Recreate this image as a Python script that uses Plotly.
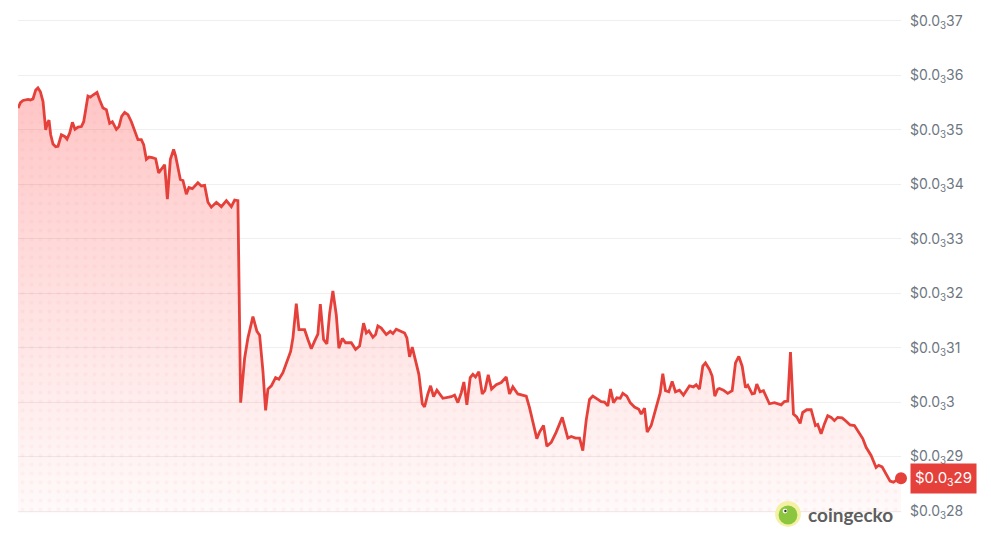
import plotly.graph_objects as go

# hours since start of the 7-day window
hours = [0, 0.46, 0.95, 1.46, 1.90, 2.36, 2.85, 3.37, 3.80, 4.26, 4.76, 5.27, 5.59, 5.90, 6.22, 6.66, 7.17, 7.61, 8.25, 8.88,
         9.32, 9.83, 10.35, 10.84, 11.41, 12.06, 12.50, 13.31, 13.77, 14.27, 15.03, 15.54, 16.17, 16.81, 17.44, 17.95, 18.72, 19.21, 19.72, 20.29,
         20.92, 21.57, 22.20, 22.82, 23.47, 23.91, 24.42, 24.92, 25.56, 26.19, 26.76, 27.27, 27.90, 28.42, 28.99, 29.61, 29.99, 30.89, 31.38, 32.03,
         32.52, 33.17, 34.23, 34.88, 35.51, 36.14, 36.78, 37.74, 38.69, 39.64, 40.59, 41.22, 41.84, 42.36, 43.12, 43.75, 44.70, 45.46, 45.97, 46.60,
         47.11, 47.55, 48.20, 49.01, 49.64, 50.40, 51.05, 51.87, 52.31, 52.95, 53.45, 54.53, 55.16, 55.81, 56.43, 57.06, 57.52, 58.14, 58.77, 59.29,
         59.91, 60.56, 61.05, 61.70, 62.33, 63.41, 64.23, 64.99, 65.75, 66.27, 66.76, 67.52, 68.03, 68.47, 69.12, 70.07, 70.83, 71.33, 71.97, 72.73,
         73.55, 73.99, 74.50, 75.01, 75.45, 76.27, 76.92, 77.35, 77.98, 78.50, 79.07, 79.70, 80.84, 81.60, 82.43, 83.06, 83.69, 84.33, 84.83, 85.40,
         86.04, 86.54, 87.05, 87.68, 88.33, 88.82, 89.47, 90.10, 90.99, 91.94, 92.89, 93.52, 94.15, 95.10, 96.05, 96.70, 97.32, 97.95, 98.71, 99.23,
         99.99, 100.62, 101.45, 102.40, 103.55, 104.61, 105.26, 106.08, 106.84, 107.46, 108.11, 108.74, 109.36, 110.32, 110.96, 111.59, 112.22, 112.73, 113.30, 113.93,
         114.58, 115.07, 115.83, 116.48, 117.30, 118.11, 118.57, 119.20, 119.71, 120.47, 121.42, 122.18, 122.68, 123.19, 123.82, 124.46, 125.09, 125.85, 126.61, 127.76,
         128.52, 129.03, 129.66, 130.29, 130.80, 131.56, 132.07, 132.57, 133.14, 133.46, 134.22, 135.04, 135.88, 136.51, 137.14, 137.78, 138.41, 138.85, 139.68, 140.12,
         140.56, 141.20, 141.83, 142.97, 143.92, 144.55, 145.20, 145.82, 146.45, 146.97, 147.54, 148.16, 148.81, 149.30, 150.07, 150.90, 151.72, 152.16, 152.80, 153.43,
         154.06, 154.71, 155.33, 155.96, 156.80, 157.56, 158.32, 159.14, 159.96, 160.72, 161.36, 162.31, 163.26, 163.76, 164.40, 165.16, 165.92, 166.55, 167.37, 168.0]

# price in units of 1e-5 USD (i.e. $0.0₃xx)
price_e5 = [35.40, 35.50, 35.54, 35.55, 35.56, 35.55, 35.57, 35.73, 35.77, 35.70, 35.52, 35.00, 35.12, 35.18, 34.91, 34.74, 34.69, 34.70, 34.91, 34.88,
            34.83, 34.94, 35.14, 35.01, 35.05, 35.06, 35.15, 35.62, 35.60, 35.64, 35.69, 35.55, 35.40, 35.37, 35.12, 35.15, 35.01, 35.06, 35.25, 35.32,
            35.28, 35.15, 35.00, 34.82, 34.82, 34.73, 34.46, 34.50, 34.49, 34.47, 34.21, 34.27, 34.36, 33.73, 34.46, 34.64, 34.52, 34.09, 34.07, 33.82,
            33.94, 33.92, 34.03, 33.97, 33.98, 33.67, 33.58, 33.67, 33.59, 33.70, 33.59, 33.71, 33.70, 29.99, 30.81, 31.18, 31.57, 31.30, 31.23, 30.57,
            29.85, 30.24, 30.30, 30.45, 30.42, 30.54, 30.72, 30.93, 31.18, 31.81, 31.33, 31.33, 31.15, 30.98, 31.12, 31.25, 31.80, 31.15, 31.07, 31.63,
            32.04, 31.60, 30.99, 31.17, 31.09, 31.09, 30.97, 31.03, 31.45, 31.27, 31.31, 31.19, 31.24, 31.40, 31.36, 31.24, 31.30, 31.26, 31.34, 31.30,
            31.27, 31.18, 30.83, 31.01, 30.83, 30.51, 29.97, 29.91, 30.15, 30.30, 30.10, 30.22, 30.07, 30.08, 30.10, 30.13, 29.99, 30.17, 30.37, 29.95,
            30.45, 30.51, 30.46, 30.56, 30.15, 30.21, 30.50, 30.24, 30.32, 30.36, 30.46, 30.15, 30.28, 30.15, 30.13, 30.11, 29.90, 29.66, 29.33, 29.45,
            29.57, 29.19, 29.26, 29.45, 29.72, 29.34, 29.37, 29.34, 29.34, 29.11, 29.67, 30.05, 30.11, 30.05, 30.01, 30.00, 29.93, 30.24, 29.99, 30.08,
            30.07, 30.16, 30.11, 29.99, 29.91, 29.87, 29.78, 29.89, 29.45, 29.57, 29.89, 30.17, 30.52, 30.21, 30.19, 30.38, 30.19, 30.22, 30.13, 30.30,
            30.28, 30.32, 30.24, 30.66, 30.72, 30.60, 30.48, 30.11, 30.24, 30.25, 30.22, 30.16, 30.21, 30.72, 30.84, 30.66, 30.27, 30.31, 30.15, 30.16,
            30.33, 30.19, 30.21, 29.97, 29.99, 29.97, 29.95, 30.01, 30.02, 30.92, 29.78, 29.73, 29.61, 29.81, 29.86, 29.86, 29.57, 29.59, 29.42, 29.60,
            29.75, 29.72, 29.66, 29.72, 29.71, 29.65, 29.58, 29.57, 29.45, 29.33, 29.17, 29.02, 28.80, 28.84, 28.81, 28.69, 28.55, 28.53, 28.58, 28.60]

prices = [p * 1e-5 for p in price_e5]

tick_vals_e5 = [28, 29, 30, 31, 32, 33, 34, 35, 36, 37]
tick_texts = ["$0.0<sub>3</sub>28", "$0.0<sub>3</sub>29", "$0.0<sub>3</sub>3", "$0.0<sub>3</sub>31",
              "$0.0<sub>3</sub>32", "$0.0<sub>3</sub>33", "$0.0<sub>3</sub>34", "$0.0<sub>3</sub>35",
              "$0.0<sub>3</sub>36", "$0.0<sub>3</sub>37"]
tick_vals = [v * 1e-5 for v in tick_vals_e5]
current_label = "$0.0<sub>3</sub>29"

RED = "#e5403a"

fig = go.Figure()

# gradient fill
fig.add_trace(go.Scatter(
    x=hours, y=prices, mode="lines", line=dict(width=0, color=RED),
    fill="tozeroy",
    fillgradient=dict(type="vertical",
                      colorscale=[[0, "rgba(255,80,80,0.03)"], [1, "rgba(255,60,60,0.30)"]],
                      start=0.00028, stop=0.000358),
    hoverinfo="skip", showlegend=False))

# dotted texture
fig.add_trace(go.Scatter(
    x=hours, y=prices, mode="lines", line=dict(width=0, color=RED),
    fill="tozeroy", fillcolor="rgba(0,0,0,0)",
    fillpattern=dict(shape=".", size=9, solidity=0.15,
                     fgcolor="rgba(240,90,90,0.10)", bgcolor="rgba(0,0,0,0)"),
    hoverinfo="skip", showlegend=False))

# price line
fig.add_trace(go.Scatter(
    x=hours, y=prices, mode="lines", line=dict(width=2.8, color=RED),
    showlegend=False))

# end dot
fig.add_trace(go.Scatter(
    x=[hours[-1]], y=[prices[-1]], mode="markers",
    marker=dict(size=12, color=RED), cliponaxis=False, showlegend=False))

fig.update_layout(
    width=991, height=533,
    margin=dict(l=18, r=90, t=15, b=20),
    paper_bgcolor="white", plot_bgcolor="white",
    font=dict(family="Inter, Roboto, sans-serif", size=14, color="#6e7681"),
    xaxis=dict(range=[hours[0], hours[-1]], visible=False, showgrid=False, zeroline=False),
    yaxis=dict(side="right", range=[0.000279636, 0.000370364],
               tickvals=tick_vals, ticktext=tick_texts,
               showgrid=True, gridcolor="#efefef", gridwidth=1,
               zeroline=False, showline=False, ticks="",
               ticklabelstandoff=8,
               tickfont=dict(size=14, color="#6e7681")),
)

# current price badge
fig.add_annotation(
    xref="paper", yref="y", x=1, y=prices[-1], xanchor="left", yanchor="middle",
    xshift=9, text=current_label, showarrow=False,
    font=dict(size=15, color="white", family="Inter, Roboto, sans-serif"),
    bgcolor=RED, borderpad=4)

# coingecko logo
logo_svg = ("data:image/svg+xml;utf8,"
            "<svg xmlns='http://www.w3.org/2000/svg' width='28' height='28' viewBox='0 0 28 28'>"
            "<circle cx='14' cy='14' r='13' fill='%23f4f1a4'/>"
            "<circle cx='14' cy='15' r='9.5' fill='%238cc63f'/>"
            "<circle cx='11' cy='11' r='2.4' fill='white'/>"
            "<circle cx='11.4' cy='11' r='1.2' fill='%23333'/>"
            "</svg>")
PW, PH = 883, 498
fig.add_layout_image(
    source=logo_svg, xref="paper", yref="paper",
    x=(774 - 18) / PW, y=(513 - 500) / PH, sizex=28 / PW, sizey=28 / PH,
    xanchor="left", yanchor="top", sizing="contain", layer="above")

fig.add_annotation(
    xref="paper", yref="paper", x=(806 - 18) / PW, y=(513 - 515) / PH,
    xanchor="left", yanchor="middle", showarrow=False,
    text="<b>coingecko</b>",
    font=dict(size=19, color="#5e5e5e", family="Lato, Inter, sans-serif"))

fig.write_html("out.html", config={"displayModeBar": False},
               post_script="document.body.style.margin='0';")
